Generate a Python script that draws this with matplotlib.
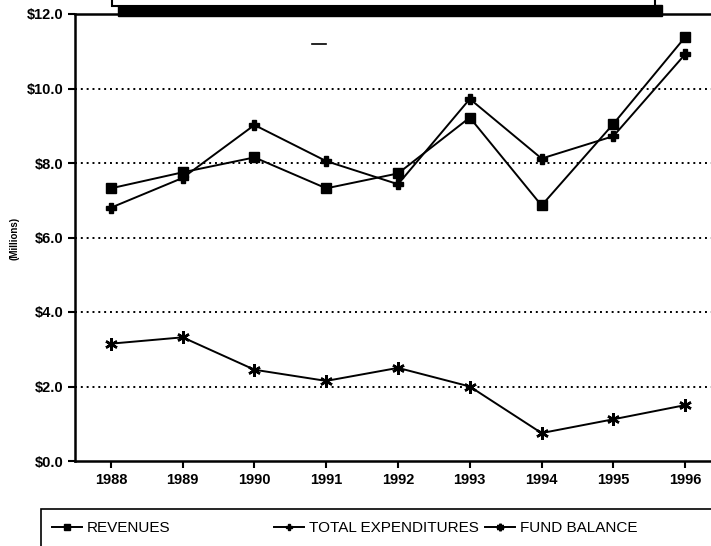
import matplotlib.pyplot as plt
from matplotlib.patches import Rectangle

years = [1988, 1989, 1990, 1991, 1992, 1993, 1994, 1995, 1996]
revenues = [7.32, 7.75, 8.15, 7.32, 7.72, 9.22, 6.86, 9.05, 11.38]
expenditures = [6.8, 7.6, 9.02, 8.05, 7.43, 9.72, 8.12, 8.72, 10.92]
fund_balance = [3.15, 3.32, 2.45, 2.15, 2.5, 2.0, 0.75, 1.12, 1.5]
yticks = [0, 2, 4, 6, 8, 10, 12]
ytick_labels = ["$0.0", "$2.0", "$4.0", "$6.0", "$8.0", "$10.0", "$12.0"]

plt.rcParams['font.family'] = ['Liberation Sans', 'DejaVu Sans']

fig = plt.figure(figsize=(7.11, 5.46), dpi=100)
ax = fig.add_axes([75 / 711, 1 - 461 / 546, 1 - 75 / 711, (461 - 14) / 546])

ax.plot(years, revenues, color='black', lw=1.4, marker='s', ms=7, label='REVENUES')
ax.plot(years, expenditures, color='black', lw=1.4, marker='P', ms=7, label='TOTAL EXPENDITURES')
ax.plot(years, fund_balance, color='black', lw=1.4, marker=(6, 2, 0), ms=9, mew=1.8,
        label='FUND BALANCE')

for y in yticks[1:-1]:
    ax.axhline(y, color='black', ls=(0, (1, 2)), lw=1.4, zorder=0)

ax.set_xlim(1987.5, 1996.36)
ax.set_ylim(0, 12)
ax.set_xticks(years)
ax.set_xticklabels([str(y) for y in years], fontsize=10.5, fontweight='bold')
ax.set_yticks(yticks)
ax.set_yticklabels(ytick_labels, fontsize=10.5, fontweight='bold')
ax.tick_params(direction='out', length=5, width=1.5, pad=3)
ax.tick_params(axis='x', pad=4)
for s in ['left', 'bottom', 'top']:
    ax.spines[s].set_linewidth(1.8)
ax.spines['right'].set_visible(False)

fig.text(15 / 711, 1 - 238 / 546, '(Millions)', rotation=90, fontsize=7,
         fontweight='bold', ha='center', va='center')

# stray dash near top
ax.plot([1990.8, 1991.0], [11.2, 11.2], color='black', lw=1.2)

# title box (mostly cut off at top)
fig.patches.append(Rectangle((118 / 711, 1 - 16 / 546), 544 / 711, 11 / 546,
                             transform=fig.transFigure, color='black', zorder=5))
fig.patches.append(Rectangle((112 / 711, 1 - 6 / 546), 543 / 711, 12 / 546,
                             transform=fig.transFigure, facecolor='white',
                             edgecolor='black', lw=1.5, zorder=6))

# legend box
fig.patches.append(Rectangle((41 / 711, -0.02), 680 / 711, (546 - 509) / 546 + 0.02,
                             transform=fig.transFigure, facecolor='none',
                             edgecolor='black', lw=1.2))
handles, labels = ax.get_legend_handles_labels()
fig.legend(handles[:1], labels[:1], loc='center left',
           bbox_to_anchor=(44 / 711, 1 - 528 / 546), frameon=False,
           fontsize=11, handlelength=2.0, handletextpad=0.3, markerscale=0.6,
           borderpad=0)
fig.legend(handles[1:], labels[1:], loc='center left', ncol=2,
           bbox_to_anchor=(266 / 711, 1 - 528 / 546), frameon=False,
           fontsize=11, handlelength=2.0, handletextpad=0.3, columnspacing=0.4,
           markerscale=0.6, borderpad=0)

fig.savefig('out.png', dpi=100)
